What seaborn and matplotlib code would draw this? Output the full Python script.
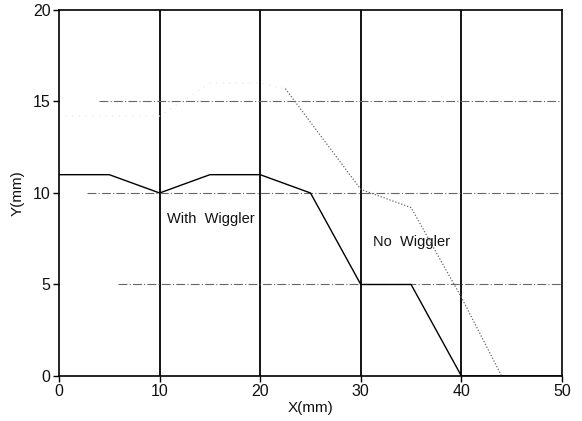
import matplotlib
matplotlib.use("Agg")
import matplotlib.pyplot as plt
import seaborn as sns
import pandas as pd

# Beam profile edge positions
with_x = [0, 5, 10, 15, 20, 25, 30, 35, 40, 50]
with_y = [11, 11, 10, 11, 11, 10, 5, 5, 0, 0]

no_x = [0, 5, 10, 15, 20, 22.5, 30, 35, 40, 44, 50]
no_y = [14.2, 14.2, 14.2, 16, 16, 15.7, 10.2, 9.2, 4.3, 0, 0]

x_ticks = [0, 10, 20, 30, 40, 50]
y_ticks = [0, 5, 10, 15, 20]

sns.set_theme(style="white")
plt.rcParams["font.family"] = ["Liberation Sans", "DejaVu Sans"]

fig = plt.figure(figsize=(5.82, 4.21), dpi=100)
ax = fig.add_axes([0.1014, 0.1069, 0.8642, 0.8694])

# reference grid: solid verticals, dash-dot horizontals
for xv in x_ticks[1:-1]:
    ax.axvline(xv, color="black", lw=1.3, zorder=1)
for yv, x0 in zip([15, 10, 5], [4, 2.8, 5.9]):
    ax.hlines(yv, x0, 50, colors="#666666", linestyles=(0, (8, 2, 1, 2)), lw=0.8, zorder=1)

df_with = pd.DataFrame({"x": with_x, "y": with_y})
df_no = pd.DataFrame({"x": no_x, "y": no_y})

sns.lineplot(data=df_with, x="x", y="y", ax=ax, color="black", lw=1.0,
             sort=False, estimator=None, zorder=3)
# faint left part of the no-wiggler trace, then its clearer descending part
k = 5
sns.lineplot(data=df_no.iloc[:k + 1], x="x", y="y", ax=ax, color="#e2e2e2", lw=0.8,
             linestyle=(0, (1, 5)), sort=False, estimator=None, zorder=2)
sns.lineplot(data=df_no.iloc[k:], x="x", y="y", ax=ax, color="#666666", lw=0.9,
             linestyle=(0, (1, 1.5)), sort=False, estimator=None, zorder=2)

ax.text(10.7, 8.6, "With  Wiggler", fontsize=10.5, va="center", ha="left", color="#111111")
ax.text(31.2, 7.3, "No  Wiggler", fontsize=10.5, va="center", ha="left", color="#111111")

ax.set_xlim(0, 50)
ax.set_ylim(0, 20)
ax.set_xticks(x_ticks)
ax.set_yticks(y_ticks)
ax.tick_params(axis="both", direction="out", length=4, width=1, color="black",
               labelsize=11.5, labelcolor="#111111", pad=2,
               bottom=True, left=True)
for s in ax.spines.values():
    s.set_color("black")
    s.set_linewidth(1.2)

ax.set_xlabel("X(mm)", fontsize=11, color="#111111", labelpad=1)
ax.set_ylabel("Y(mm)", fontsize=11, color="#111111", labelpad=6)

fig.savefig("out.png", dpi=100, facecolor="white")
